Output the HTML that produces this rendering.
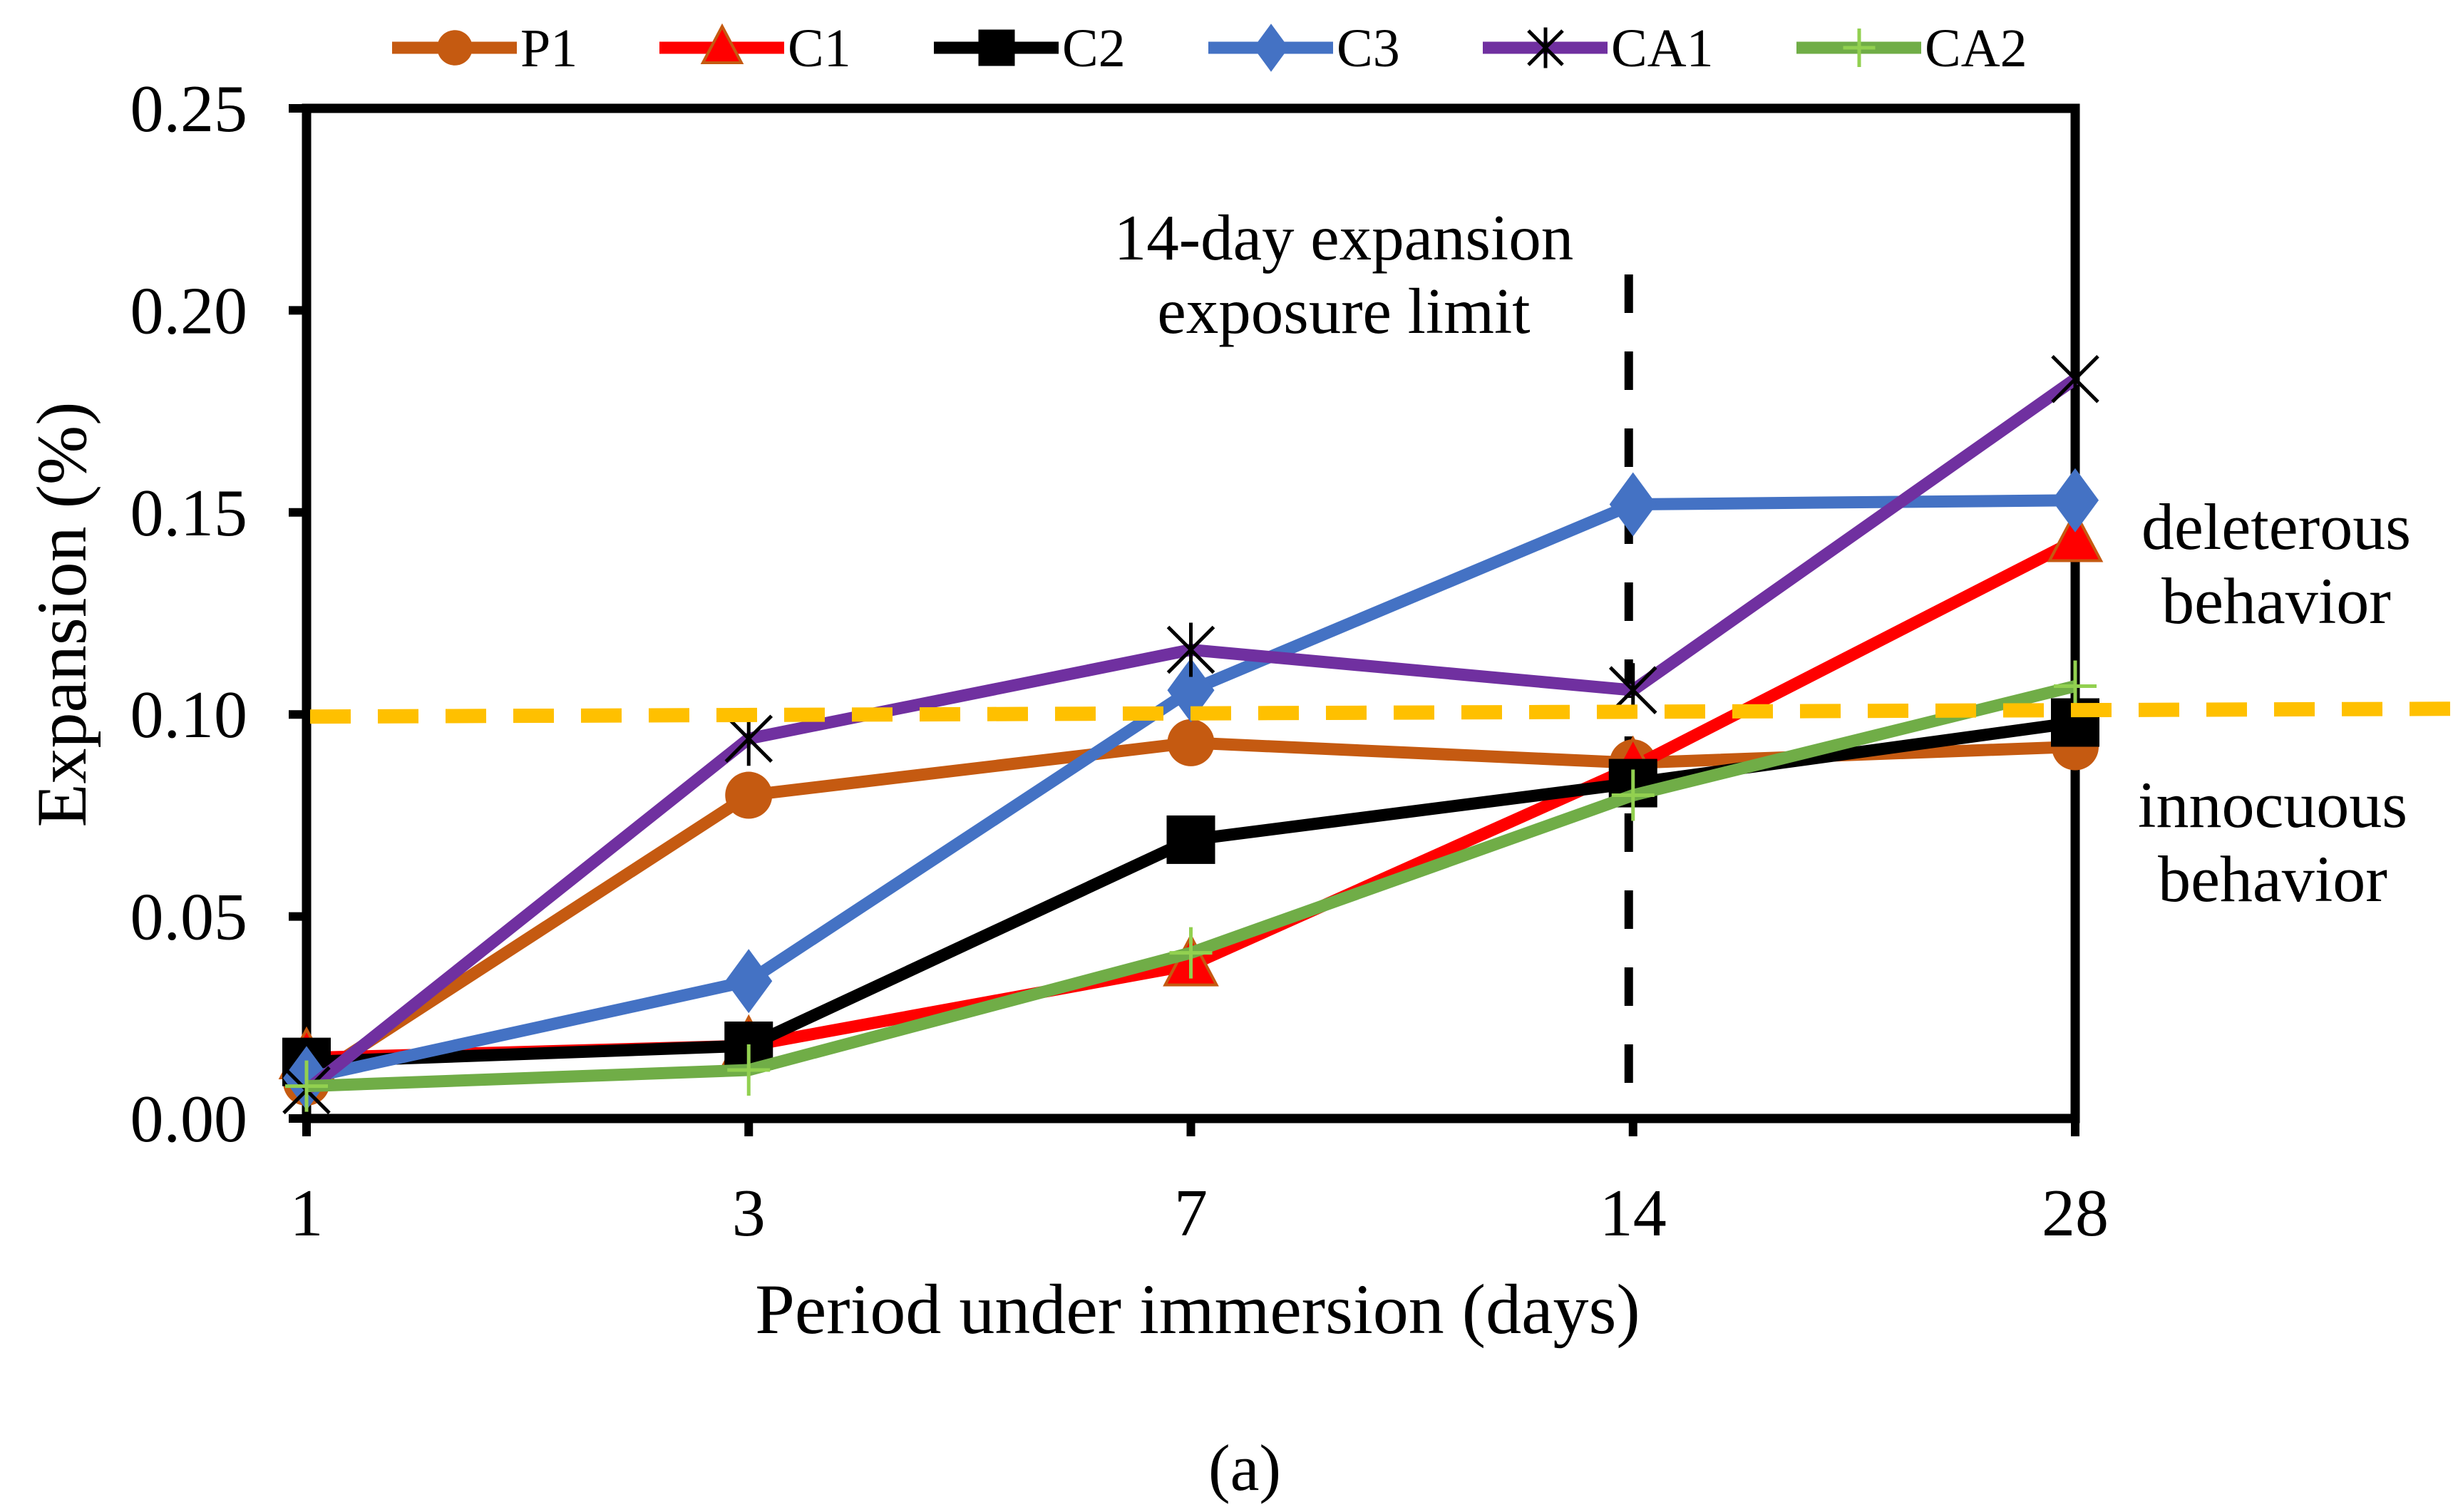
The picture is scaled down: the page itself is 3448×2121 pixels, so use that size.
<!DOCTYPE html>
<html><head><meta charset="utf-8"><style>
html,body{margin:0;padding:0;background:#fff}
svg{display:block;font-family:"Liberation Serif",serif}
</style></head><body>
<svg id="chart" width="3448" height="2121" viewBox="0 0 3448 2121" xmlns="http://www.w3.org/2000/svg">
<rect width="3448" height="2121" fill="#fff"/>
<g id="plot"></g>
</svg>
<script>
const categories = ["1","3","7","14","28"];
const yTicks = [0,0.05,0.10,0.15,0.20,0.25];
const yTickLabels = ["0.00","0.05","0.10","0.15","0.20","0.25"];
const seriesNames = ["P1","C1","C2","C3","CA1","CA2"];
const p1 = [0.009,0.080,0.093,0.088,0.092];
const c1 = [0.015,0.018,0.038,0.087,0.143];
const c2 = [0.014,0.018,0.069,0.083,0.098];
const c3 = [0.010,0.034,0.106,0.152,0.153];
const ca1 = [0.007,0.094,0.116,0.106,0.183];
const ca2 = [0.008,0.012,0.041,0.080,0.107];
const limitValue = 0.10;
const limitDay = "14";

const L=430,R=2911,T=152,B=1569,YMAX=0.25;
function xs(i){return L+(R-L)*i/(categories.length-1);}
function ys(v){return B-(B-T)*v/YMAX;}
const NS="http://www.w3.org/2000/svg";
const g=document.getElementById('plot');
function el(tag,attrs,parent){const e=document.createElementNS(NS,tag);for(const k in attrs)e.setAttribute(k,attrs[k]);(parent||g).appendChild(e);return e;}

let fr=el('rect',{x:L,y:T,width:R-L,height:B-T,fill:'none',stroke:'#000','stroke-width':13});



yTicks.forEach((v,i)=>{
  let t=el('line',{x1:L-25,x2:L,y1:ys(v),y2:ys(v),stroke:'#000','stroke-width':12});
  
  
  let tx=el('text',{x:347,y:ys(v)+32,'text-anchor':'end','font-size':94});
  tx.textContent=yTickLabels[i];
  
  
});
categories.forEach((c,i)=>{
  let t=el('line',{x1:xs(i),x2:xs(i),y1:B,y2:B+25,stroke:'#000','stroke-width':12});
  
  
  let tx=el('text',{x:xs(i),y:1733,'text-anchor':'middle','font-size':94});
  tx.textContent=c;
  
  
});

const li=categories.indexOf(limitDay);
let vl=el('line',{x1:xs(li)-6,x2:xs(li)-6,y1:385,y2:B,stroke:'#000','stroke-width':12,'stroke-dasharray':'54 54'});



const colors=["#c55a11","#ff0000","#000000","#4472c4","#7030a0","#70ad47"];
const data=[p1,c1,c2,c3,ca1,ca2];

function marker(k,x,y,parent,s){
  s=s||1;
  let m;
  if(k===0) m=el('circle',{cx:x,cy:y,r:33*s,fill:'#c55a11'},parent);
  else if(k===1) m=el('polygon',{points:`${x},${y-40*s} ${x+36*s},${y+28*s} ${x-36*s},${y+28*s}`,fill:'#ff0000',stroke:'#c55a11','stroke-width':4},parent);
  else if(k===2) m=el('rect',{x:x-34*s,y:y-34*s,width:68*s,height:68*s,fill:'#000'},parent);
  else if(k===3) m=el('polygon',{points:`${x},${y-45*s} ${x+33*s},${y} ${x},${y+45*s} ${x-33*s},${y}`,fill:'#4472c4'},parent);
  else if(k===4) m=el('path',{d:`M${x-32*s},${y-32*s}L${x+32*s},${y+32*s}M${x+32*s},${y-32*s}L${x-32*s},${y+32*s}M${x},${y-38*s}L${x},${y+38*s}`,stroke:'#000','stroke-width':5,fill:'none'},parent);
  else m=el('path',{d:`M${x-30*s},${y}L${x+30*s},${y}M${x},${y-36*s}L${x},${y+36*s}`,stroke:'#92d050','stroke-width':5,fill:'none'},parent);
  return m;
}

data.forEach((arr,k)=>{
  const sg=el('g',{});
  
  
  let d=arr.map((v,i)=>(i?'L':'M')+xs(i)+','+ys(v)).join('');
  let p=el('path',{d:d,fill:'none',stroke:colors[k],'stroke-width':17,'stroke-linejoin':'round'},sg);
  
  
  arr.forEach((v,i)=>{
    let m=marker(k,xs(i),ys(v),sg);
    
    
  });
});

let th=el('line',{x1:L+5,x2:3448,y1:ys(limitValue)+3,y2:ys(limitValue)-8,stroke:'#ffc000','stroke-width':20,'stroke-dasharray':'57 38'});



const legX=[550,925,1310,1695,2080,2520];
seriesNames.forEach((n,k)=>{
  const lg=el('g',{});
  
  
  const x0=legX[k];
  el('line',{x1:x0,x2:x0+175,y1:67,y2:67,stroke:colors[k],'stroke-width':17},lg);
  marker(k,x0+88,67,lg,0.75);
  const t=el('text',{x:x0+180,y:93,'font-size':76},lg);
  t.textContent=n;
});

function txt(s,x,y,size,name,anchor){
  const t=el('text',{x:x,y:y,'font-size':size,'text-anchor':anchor||'middle'});
  t.textContent=s;
  
  
  return t;
}
txt("14-day expansion",1885,364,91,'limit-annotation-line1');
txt("exposure limit",1885,467,91,'limit-annotation-line2');
txt("deleterous",3193,770,92,'deleterious-label-line1');
txt("behavior",3193,874,92,'deleterious-label-line2');
txt("innocuous",3188,1160,92,'innocuous-label-line1');
txt("behavior",3188,1264,92,'innocuous-label-line2');
txt("Period under immersion (days)",1680,1870,100,'x-axis-title');
txt("(a)",1746,2090,92,'figure-caption');
const yt=txt("Expansion (%)",0,0,100,'y-axis-title');
yt.setAttribute('transform','translate(120,862) rotate(-90)');
</script>
</body></html>
